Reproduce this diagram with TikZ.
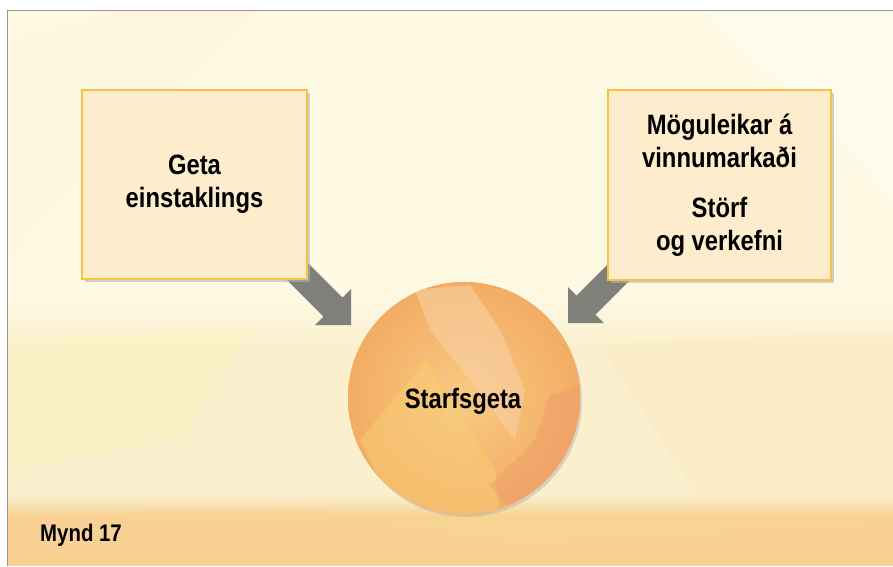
\documentclass[tikz,border=0pt]{standalone}
\usepackage{fontspec}
\setmainfont{Liberation Sans}[FakeStretch=0.85]
\usetikzlibrary{shadows}
\definecolor{bgtop}{RGB}{253,249,227}
\definecolor{bgmid}{RGB}{251,240,205}
\definecolor{bgbot}{RGB}{247,212,148}
\definecolor{boxfill}{RGB}{254,237,204}
\definecolor{boxline}{RGB}{246,194,72}
\definecolor{arrowgray}{RGB}{128,128,122}
\definecolor{frame}{RGB}{150,150,150}
\definecolor{orA}{RGB}{243,172,100}
\definecolor{orB}{RGB}{248,202,132}
\definecolor{orPale}{RGB}{249,208,165}
\definecolor{orYel}{RGB}{248,206,120}
\definecolor{orRed}{RGB}{238,150,110}
\tikzset{
  infobox/.style={draw=boxline, line width=1.2pt, fill=boxfill, minimum width=225pt, minimum height=189pt,
    inner sep=0pt, align=center, font=\bfseries\fontsize{28}{33}\selectfont,
    drop shadow={shadow xshift=3pt, shadow yshift=-3pt, fill=black!30, opacity=0.6}},
  blockarrow/.style={fill=arrowgray},
  core/.style={circle, minimum size=232pt, inner sep=0pt, font=\bfseries\fontsize{28}{33}\selectfont},
  caption/.style={font=\bfseries\fontsize{24}{28}\selectfont, inner sep=0pt, anchor=base west}
}
\begin{document}
\begin{tikzpicture}[x=1pt,y=-1pt]
\useasboundingbox (0,0) rectangle (893,566);
% background
\fill[white] (0,0) rectangle (893,566);
\fill[bgtop] (7.5,10.5) rectangle (893,335);
\shade[top color=bgtop, bottom color=bgmid] (7.5,300) rectangle (893,345);
\fill[bgmid] (7.5,345) rectangle (893,500);
\shade[top color=bgmid, bottom color=bgbot] (7.5,495) rectangle (893,515);
\fill[bgbot] (7.5,515) rectangle (893,566);
% watercolor hints
\fill[white, opacity=0.35] (700,10.5) -- (893,10.5) -- (893,200) -- (820,120) -- cycle;
\fill[orange!20, opacity=0.12] (7.5,40) -- (120,10.5) -- (260,10.5) -- (60,200) -- (7.5,260) -- cycle;
\fill[orange!30, opacity=0.15] (600,345) -- (893,330) -- (893,500) -- (700,500) -- cycle;
\fill[orange!40, opacity=0.25] (7.5,515) -- (300,508) -- (520,540) -- (893,520) -- (893,566) -- (7.5,566) -- cycle;
\fill[yellow!40, opacity=0.12] (7.5,340) -- (250,330) -- (180,440) -- (7.5,470) -- cycle;
% frame
\draw[frame, line width=1.5pt] (7.5,566) -- (7.5,10.5) -- (893,10.5);
% arrows (behind boxes)
\fill[blockarrow] (292.5,247.5) -- (342.5,297.5) -- (351,289) -- (351,325) -- (315,325) -- (323.5,316.5) -- (273.5,266.5) -- cycle;
\fill[blockarrow] (636,236) -- (576.5,295.5) -- (568,287) -- (568,323) -- (604,323) -- (595.5,314.5) -- (655,255) -- cycle;
% boxes
\node[infobox] (ability) at (194.5,184.5) {Geta\\einstaklings};
\node[infobox, minimum width=223pt, minimum height=190pt] (market) at (719.5,185)
  {Möguleikar á\\vinnumarkaði\\[17pt]Störf\\og verkefni};
% circle
\node[core, fill=orA, drop shadow={shadow xshift=2pt, shadow yshift=-3pt, fill=black!35, opacity=0.4}] (cap) at (464,398) {};
\begin{scope}
\clip (cap.center) circle (116pt);
\shade[inner color=orB, outer color=orA] (cap.center) circle (116pt);
\fill[orPale, opacity=0.6] (415,290) -- (470,285) -- (500,330) -- (525,390) -- (515,440) -- (470,380) -- (430,330) -- cycle;
\fill[orYel, opacity=0.5] (425,362) -- (360,440) -- (400,520) -- (500,520) -- (495,470) -- cycle;
\draw[yellow!70!orange, opacity=0.6] (425,362) -- (360,440);
\draw[yellow!70!orange, opacity=0.6] (425,362) -- (495,470);
\fill[orRed, opacity=0.4] (550,395) -- (600,380) -- (600,520) -- (520,520) -- (490,485) -- (535,440) -- cycle;
\end{scope}
\node[core] (captext) at (463,401) {Starfsgeta};
% caption
\node[caption] (fig) at (40,541) {Mynd 17};
\end{tikzpicture}
\end{document}
